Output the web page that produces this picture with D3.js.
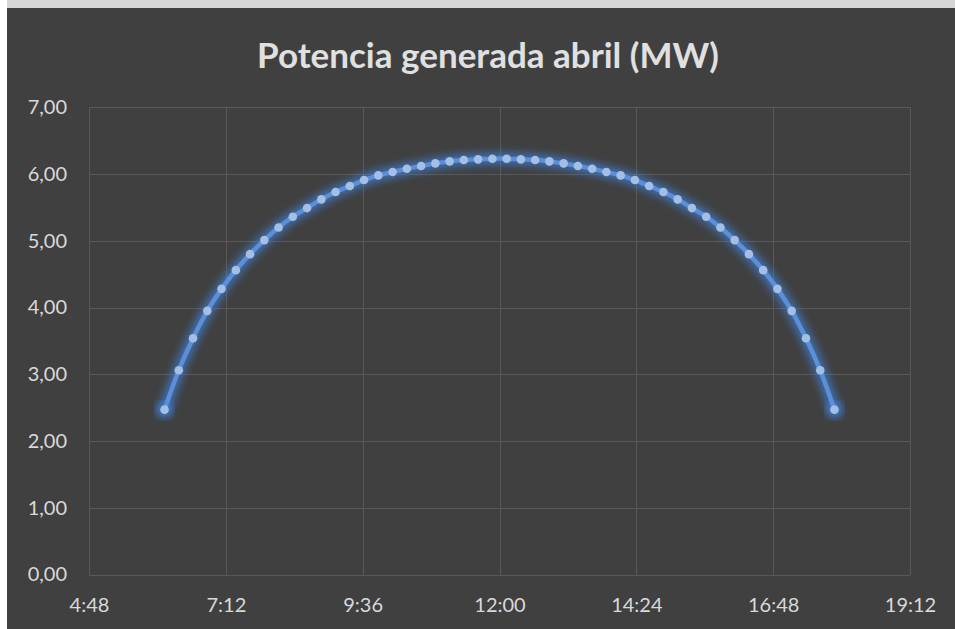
<!DOCTYPE html>
<html>
<head>
<meta charset="utf-8">
<script src="https://cdn.jsdelivr.net/npm/d3@7"></script>
<style>
  html, body { margin: 0; padding: 0; background: #ffffff; }
  svg { display: block; }
</style>
</head>
<body>
<svg id="chart" width="955" height="629"></svg>
<script>
// Generated power, April — quarter-hour samples (time of day, MW)
const times = [
  "6:07:30", "6:22:30", "6:37:30", "6:52:30",
  "7:07:30", "7:22:30", "7:37:30", "7:52:30",
  "8:07:30", "8:22:30", "8:37:30", "8:52:30",
  "9:07:30", "9:22:30", "9:37:30", "9:52:30",
  "10:07:30", "10:22:30", "10:37:30", "10:52:30",
  "11:07:30", "11:22:30", "11:37:30", "11:52:30",
  "12:07:30", "12:22:30", "12:37:30", "12:52:30",
  "13:07:30", "13:22:30", "13:37:30", "13:52:30",
  "14:07:30", "14:22:30", "14:37:30", "14:52:30",
  "15:07:30", "15:22:30", "15:37:30", "15:52:30",
  "16:07:30", "16:22:30", "16:37:30", "16:52:30",
  "17:07:30", "17:22:30", "17:37:30", "17:52:30"
];
const powerMW = [
  2.47, 3.06, 3.54, 3.95, 4.28, 4.56, 4.80, 5.01,
  5.20, 5.36, 5.49, 5.62, 5.73, 5.82, 5.91, 5.98,
  6.03, 6.08, 6.12, 6.16, 6.19, 6.21, 6.22, 6.23,
  6.23, 6.22, 6.21, 6.19, 6.16, 6.12, 6.08, 6.03,
  5.98, 5.91, 5.82, 5.73, 5.62, 5.49, 5.36, 5.20,
  5.01, 4.80, 4.56, 4.28, 3.95, 3.54, 3.06, 2.47
];
const xTickLabels = ["4:48", "7:12", "9:36", "12:00", "14:24", "16:48", "19:12"];
const yTickValues = [0, 1, 2, 3, 4, 5, 6, 7];
const title = "Potencia generada abril (MW)";

// helpers: "H:MM[:SS]" -> minutes of the day
const toMinutes = s => {
  const p = s.split(":").map(Number);
  return p[0] * 60 + p[1] + (p[2] || 0) / 60;
};
const fmtNum = v => v.toFixed(2).replace(".", ",");

const data = times.map((t, i) => ({ t: toMinutes(t), v: powerMW[i] }));
const xTicks = xTickLabels.map(toMinutes);

const svg = d3.select("#chart");
const W = 955, H = 629;

// chart area
svg.append("rect")
  .attr("x", 7).attr("y", 8)
  .attr("width", W - 7).attr("height", H - 8)
  .attr("fill", "#404040");
svg.append("rect")
  .attr("x", 7).attr("y", 0)
  .attr("width", W - 7).attr("height", 8)
  .attr("fill", "#d6d6d6");

const plot = { left: 89, right: 910, top: 107.3, bottom: 574.5 };

const x = d3.scaleLinear()
  .domain([xTicks[0], xTicks[xTicks.length - 1]])
  .range([plot.left, plot.right]);
const y = d3.scaleLinear()
  .domain([0, 7])
  .range([plot.bottom, plot.top]);

const fontFamily = "Lato, 'Open Sans', sans-serif";
const labelColor = "#d9d9d9";

// title
svg.append("text")
  .attr("x", 488).attr("y", 68)
  .attr("text-anchor", "middle")
  .attr("font-family", fontFamily)
  .attr("font-weight", "bold")
  .attr("font-size", 35)
  .attr("fill", "#e0e0e0")
  .text(title);

// gridlines
const grid = svg.append("g").attr("shape-rendering", "crispEdges");
grid.selectAll("line.h")
  .data(yTickValues)
  .join("line")
  .attr("class", "h")
  .attr("x1", plot.left).attr("x2", plot.right)
  .attr("y1", d => Math.round(y(d)) + 0.5).attr("y2", d => Math.round(y(d)) + 0.5)
  .attr("stroke", "#595959").attr("stroke-width", 1.5);
grid.selectAll("line.v")
  .data(xTicks)
  .join("line")
  .attr("class", "v")
  .attr("y1", plot.top).attr("y2", plot.bottom)
  .attr("x1", d => Math.round(x(d)) + 0.5).attr("x2", d => Math.round(x(d)) + 0.5)
  .attr("stroke", "#595959").attr("stroke-width", 1.5);

// axes (labels only, lines come from the grid)
const yAxis = d3.axisLeft(y)
  .tickValues(yTickValues)
  .tickSize(0)
  .tickPadding(0)
  .tickFormat(fmtNum);
const gy = svg.append("g")
  .attr("transform", `translate(${plot.left - 22},0)`)
  .call(yAxis);

const xAxis = d3.axisBottom(x)
  .tickValues(xTicks)
  .tickSize(0)
  .tickPadding(0)
  .tickFormat((d, i) => xTickLabels[i]);
const gx = svg.append("g")
  .attr("transform", `translate(0,${plot.bottom + 23})`)
  .call(xAxis);

[gx, gy].forEach(g => {
  g.select(".domain").remove();
  g.selectAll("text")
    .attr("font-family", fontFamily)
    .attr("font-size", 20)
    .attr("fill", labelColor);
});

// glow filter for the series
const defs = svg.append("defs");
const glow = defs.append("filter")
  .attr("id", "glow")
  .attr("x", "-10%").attr("y", "-10%")
  .attr("width", "120%").attr("height", "130%");
glow.append("feGaussianBlur").attr("stdDeviation", 4.5);

const line = d3.line()
  .x(d => x(d.t))
  .y(d => y(d.v))
  .curve(d3.curveCatmullRom.alpha(0.5));

const series = svg.append("g");
series.append("path")
  .datum(data)
  .attr("d", line)
  .attr("fill", "none")
  .attr("stroke", "#3f86e8")
  .attr("stroke-width", 11)
  .attr("stroke-opacity", 0.7)
  .attr("stroke-linecap", "round")
  .attr("filter", "url(#glow)");
series.selectAll("circle.halo")
  .data([data[0], data[data.length - 1]])
  .join("circle")
  .attr("class", "halo")
  .attr("cx", d => x(d.t)).attr("cy", d => y(d.v))
  .attr("r", 8)
  .attr("fill", "#3f86e8")
  .attr("fill-opacity", 0.7)
  .attr("filter", "url(#glow)");
series.append("path")
  .datum(data)
  .attr("d", line)
  .attr("fill", "none")
  .attr("stroke", "#5b8fd8")
  .attr("stroke-width", 4.5)
  .attr("stroke-linejoin", "round");
series.selectAll("circle.pt")
  .data(data)
  .join("circle")
  .attr("class", "pt")
  .attr("cx", d => x(d.t)).attr("cy", d => y(d.v))
  .attr("r", 4.3)
  .attr("fill", "#a3bfe6");
</script>
</body>
</html>
